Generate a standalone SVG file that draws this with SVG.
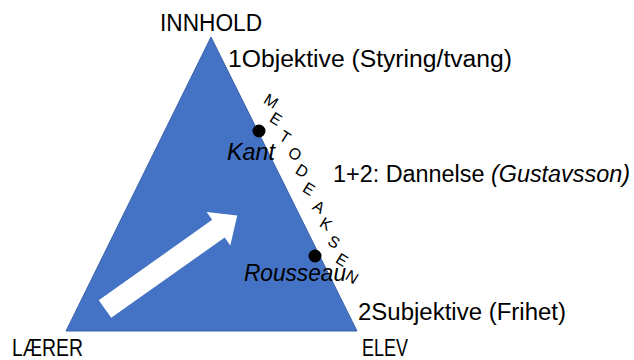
<svg xmlns="http://www.w3.org/2000/svg" width="634" height="360" viewBox="0 0 634 360">
<style>
.t{font-family:"Liberation Sans",Arial,sans-serif;font-size:23px;fill:#000}
.i{font-style:italic}
.m{font-family:"Liberation Sans",Arial,sans-serif;font-size:16px;fill:#000;text-anchor:middle;dominant-baseline:central}
</style>
<rect width="634" height="360" fill="#fff"/>
<g id="triangle">
<polygon points="211,37 66,331 357,331" fill="#4472C4" stroke="#3A63AC" stroke-width="1"/>
</g>
<g id="connectors">
<polygon transform="translate(105,309) rotate(-35.3)" points="0,-10.8 139,-10.8 139,-20.5 162,0 139,20.5 139,10.8 0,10.8" fill="#fff"/>
</g>
<g id="kant">
<circle cx="259" cy="131" r="6.5" fill="#000"/>
<text class="t i" x="227" y="160" textLength="48" lengthAdjust="spacingAndGlyphs">Kant</text>
</g>
<g id="rousseau">
<circle cx="315" cy="256" r="6.5" fill="#000"/>
<text class="t i" x="244" y="281" textLength="102" lengthAdjust="spacingAndGlyphs">Rousseau</text>
</g>
<g id="innhold"><text class="t" x="160" y="31" textLength="102" lengthAdjust="spacingAndGlyphs">INNHOLD</text></g>
<g id="laerer"><text class="t" x="12" y="356" textLength="71" lengthAdjust="spacingAndGlyphs">LÆRER</text></g>
<g id="elev"><text class="t" x="362" y="356" textLength="46" lengthAdjust="spacingAndGlyphs">ELEV</text></g>
<g id="objektive"><text class="t" x="228" y="67" textLength="284" lengthAdjust="spacingAndGlyphs">1Objektive (Styring/tvang)</text></g>
<g id="dannelse"><text class="t" x="333" y="182" textLength="297" lengthAdjust="spacingAndGlyphs">1+2: Dannelse <tspan class="i">(Gustavsson)</tspan></text></g>
<g id="subjektive"><text class="t" x="358" y="320" textLength="208" lengthAdjust="spacingAndGlyphs">2Subjektive (Frihet)</text></g>
<g id="metodeaksen">
<text class="m" transform="translate(271,101) rotate(32)">M</text>
<text class="m" transform="translate(276,119) rotate(32)">E</text>
<text class="m" transform="translate(285,137) rotate(32)">T</text>
<text class="m" transform="translate(295,154) rotate(32)">O</text>
<text class="m" transform="translate(302,171) rotate(32)">D</text>
<text class="m" transform="translate(309,189) rotate(32)">E</text>
<text class="m" transform="translate(319,207) rotate(32)">A</text>
<text class="m" transform="translate(326,224) rotate(32)">K</text>
<text class="m" transform="translate(334,242) rotate(32)">S</text>
<text class="m" transform="translate(342,260) rotate(32)">E</text>
<text class="m" transform="translate(352,277) rotate(32)">N</text>
</g>
</svg>
